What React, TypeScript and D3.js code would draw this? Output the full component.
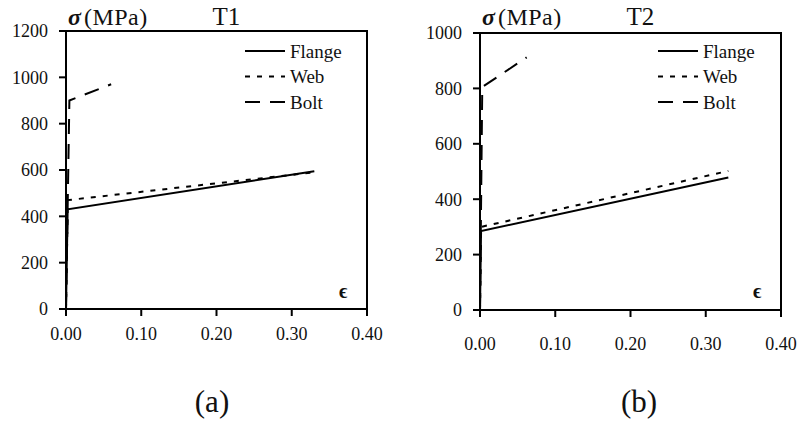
import React from "react";
import * as d3 from "d3";

const strainTicks = [0, 0.1, 0.2, 0.3, 0.4];
const stressTicksT1 = [0, 200, 400, 600, 800, 1000, 1200];
const stressTicksT2 = [0, 200, 400, 600, 800, 1000];
const seriesNames = ["Flange", "Web", "Bolt"];

const flangeT1: [number, number][] = [[0, 0], [0.0022, 430], [0.33, 595]];
const webT1: [number, number][] = [[0, 0], [0.0024, 470], [0.33, 590]];
const boltT1: [number, number][] = [[0, 0], [0.0045, 900], [0.06, 970]];

const flangeT2: [number, number][] = [[0, 0], [0.0014, 285], [0.33, 478]];
const webT2: [number, number][] = [[0, 0], [0.0015, 300], [0.33, 502]];
const boltT2: [number, number][] = [[0, 0], [0.003, 805], [0.062, 912]];

const dashes = ["none", "5,7", "15,10"];
const FONT = "Liberation Serif";
const fs = (size: number, extra: React.CSSProperties = {}) => ({ fontFamily: FONT, fontSize: size, ...extra });

type PanelProps = {
  left: number; right: number; top: number; bottom: number;
  yMax: number; yTicks: number[]; title: string; series: [number, number][][];
  xLabelY: number; legendX: number; caption: string; captionX: number;
};

function Panel(p: PanelProps) {
  const x = d3.scaleLinear().domain([0, 0.4]).range([p.left, p.right]);
  const y = d3.scaleLinear().domain([0, p.yMax]).range([p.bottom, p.top]);
  const line = d3.line<[number, number]>().x(d => x(d[0])).y(d => y(d[1]));
  return (
    <g fill="#111">
      <rect x={p.left} y={p.top} width={p.right - p.left} height={p.bottom - p.top}
        fill="none" stroke="#000" strokeWidth={2} />
      {p.yTicks.map(t => (
        <g key={"y" + t}>
          <line x1={p.left - 7} x2={p.left} y1={y(t)} y2={y(t)} stroke="#000" strokeWidth={2} />
          <text x={p.left - 18} y={y(t)} dy="0.35em" textAnchor="end" style={fs(18)}>{t}</text>
        </g>
      ))}
      {strainTicks.map(t => (
        <g key={"x" + t}>
          <line x1={x(t)} x2={x(t)} y1={p.bottom} y2={p.bottom + 7} stroke="#000" strokeWidth={2} />
          <text x={x(t)} y={p.xLabelY} textAnchor="middle" style={fs(18)}>{t.toFixed(2)}</text>
        </g>
      ))}
      {p.series.map((s, i) => (
        <path key={"s" + i} d={line(s) || ""} fill="none" stroke="#000" strokeWidth={2}
          strokeDasharray={dashes[i]} />
      ))}
      {seriesNames.map((n, i) => (
        <g key={"l" + n}>
          <line x1={p.legendX} x2={p.legendX + 40} y1={51 + i * 25.5} y2={51 + i * 25.5}
            stroke="#000" strokeWidth={2} strokeDasharray={dashes[i]} />
          <text x={p.legendX + 45} y={51 + i * 25.5} dy="0.35em" style={fs(19)}>{n}</text>
        </g>
      ))}
      <text x={p.left + 2} y={25} style={fs(24)}>
        <tspan fontWeight="bold" fontStyle="italic">σ</tspan>
        <tspan dx={3} style={{ letterSpacing: 0.5 }}>(MPa)</tspan>
      </text>
      <text x={x(0.213)} y={25} textAnchor="middle" style={fs(25)}>{p.title}</text>
      <text x={p.right - 28} y={298} style={fs(20, { fontWeight: "bold" })}>ϵ</text>
      <text x={p.captionX} y={412} textAnchor="middle" style={fs(31)}>{p.caption}</text>
    </g>
  );
}

export default function App() {
  return (
    <svg width={799} height={427} style={{ position: "absolute", left: 0, top: 0, background: "#fff", fontFamily: FONT }}>
      <rect width={799} height={427} fill="#fff" />
      <Panel left={66} right={367} top={31} bottom={309} yMax={1200} yTicks={stressTicksT1}
        title="T1" series={[flangeT1, webT1, boltT1]} xLabelY={340} legendX={245}
        caption="(a)" captionX={212} />
      <Panel left={480} right={781} top={33} bottom={310} yMax={1000} yTicks={stressTicksT2}
        title="T2" series={[flangeT2, webT2, boltT2]} xLabelY={350} legendX={658}
        caption="(b)" captionX={639} />
    </svg>
  );
}
